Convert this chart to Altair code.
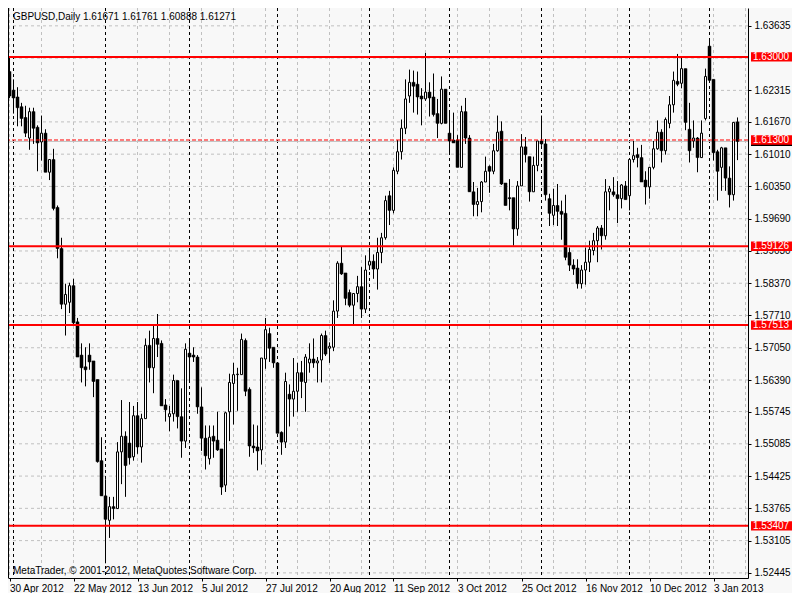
import altair as alt
import pandas as pd

# ---------------- data ----------------
opens = [
1.6270,1.6232,1.6218,1.6198,1.6176,1.6134,1.6188,1.6156,1.6126,1.6144,
1.6064,1.6090,1.5992,1.5908,1.5794,1.5798,1.5832,1.5758,1.5690,1.5666,
1.5690,1.5678,1.5640,1.5474,1.5402,1.5352,1.5380,1.5376,1.5492,1.5524,
1.5510,1.5482,1.5566,1.5502,1.5560,1.5710,1.5664,1.5724,1.5714,1.5588,
1.5564,1.5570,1.5638,1.5564,1.5514,1.5694,1.5690,1.5686,1.5584,1.5520,
1.5478,1.5524,1.5516,1.5498,1.5424,1.5574,1.5632,1.5650,1.5650,1.5720,
1.5620,1.5504,1.5502,1.5496,1.5682,1.5734,1.5706,1.5674,1.5532,1.5512,
1.5610,1.5600,1.5616,1.5654,1.5634,1.5674,1.5682,1.5674,1.5680,1.5730,
1.5704,1.5706,1.5780,1.5878,1.5858,1.5818,1.5792,1.5816,1.5830,1.5784,
1.5874,1.5882,1.5866,1.5900,1.5930,1.6016,1.5986,1.6066,1.6106,1.6154,
1.6220,1.6248,1.6244,1.6220,1.6214,1.6228,1.6218,1.6184,1.6164,1.6234,
1.6144,1.6130,1.6130,1.6074,1.6188,1.6134,1.6024,1.5998,1.6004,1.6044,
1.6076,1.6066,1.6108,1.6148,1.6042,1.6012,1.6012,1.5948,1.6036,1.6116,
1.6096,1.6024,1.6078,1.6128,1.6122,1.6010,1.5976,1.5996,1.5984,1.5980,
1.5900,1.5874,1.5868,1.5836,1.5864,1.5880,1.5904,1.5924,1.5950,1.5934,
1.6024,1.6024,1.6018,1.6010,1.6036,1.6016,1.6090,1.6100,1.6094,1.6048,
1.6034,1.6074,1.6112,1.6146,1.6108,1.6164,1.6202,1.6250,1.6246,1.6276,
1.6152,1.6128,1.6134,1.6094,1.6174,1.6322,1.6254,1.6106,1.6074,1.6114,
1.6052,1.6018,1.61671]

highs = [
1.6300,1.6254,1.6238,1.6206,1.6200,1.6196,1.6196,1.6160,1.6180,1.6152,
1.6090,1.6112,1.5996,1.5930,1.5836,1.5838,1.5846,1.5766,1.5714,1.5706,
1.5714,1.5678,1.5640,1.5522,1.5436,1.5400,1.5400,1.5512,1.5598,1.5534,
1.5594,1.5586,1.5594,1.5570,1.5724,1.5740,1.5752,1.5774,1.5720,1.5600,
1.5586,1.5650,1.5638,1.5622,1.5714,1.5724,1.5706,1.5690,1.5624,1.5546,
1.5546,1.5546,1.5574,1.5498,1.5574,1.5652,1.5674,1.5664,1.5734,1.5724,
1.5624,1.5548,1.5546,1.5684,1.5766,1.5746,1.5706,1.5674,1.5534,1.5654,
1.5630,1.5684,1.5674,1.5678,1.5692,1.5714,1.5724,1.5686,1.5734,1.5740,
1.5716,1.5802,1.5882,1.5912,1.5858,1.5824,1.5816,1.5852,1.5870,1.5894,
1.5906,1.5896,1.5930,1.5940,1.6016,1.6026,1.6074,1.6130,1.6172,1.6254,
1.6274,1.6272,1.6270,1.6236,1.6308,1.6248,1.6266,1.6214,1.6260,1.6234,
1.6186,1.6186,1.6140,1.6200,1.6216,1.6140,1.6044,1.6032,1.6046,1.6096,
1.6078,1.6122,1.6180,1.6168,1.6042,1.6050,1.6012,1.6046,1.6142,1.6136,
1.6096,1.6096,1.6128,1.6180,1.6132,1.6020,1.6030,1.6040,1.6006,1.6018,
1.5910,1.5886,1.5886,1.5874,1.5910,1.5924,1.5940,1.5954,1.5956,1.6050,
1.6036,1.6054,1.6046,1.6040,1.6046,1.6090,1.6128,1.6114,1.6120,1.6066,
1.6074,1.6128,1.6170,1.6152,1.6176,1.6220,1.6270,1.6306,1.6300,1.6276,
1.6206,1.6170,1.6136,1.6170,1.6276,1.6336,1.6254,1.6110,1.6116,1.6114,
1.6076,1.6166,1.61761]

lows = [
1.6216,1.6184,1.6158,1.6158,1.6136,1.6110,1.6122,1.6066,1.6088,1.6064,
1.6048,1.5986,1.5888,1.5784,1.5730,1.5776,1.5750,1.5686,1.5634,1.5626,
1.5660,1.5604,1.5470,1.5402,1.5264,1.5316,1.5354,1.5376,1.5426,1.5400,
1.5466,1.5474,1.5488,1.5470,1.5560,1.5634,1.5612,1.5686,1.5586,1.5554,
1.5534,1.5554,1.5540,1.5480,1.5500,1.5636,1.5676,1.5570,1.5494,1.5456,
1.5466,1.5480,1.5494,1.5404,1.5410,1.5514,1.5548,1.5576,1.5650,1.5606,
1.5482,1.5490,1.5454,1.5466,1.5662,1.5676,1.5664,1.5530,1.5486,1.5500,
1.5544,1.5564,1.5574,1.5602,1.5574,1.5654,1.5664,1.5634,1.5634,1.5688,
1.5674,1.5698,1.5766,1.5854,1.5792,1.5788,1.5752,1.5798,1.5766,1.5776,
1.5864,1.5846,1.5824,1.5878,1.5926,1.5956,1.5980,1.6060,1.6090,1.6142,
1.6206,1.6186,1.6182,1.6160,1.6210,1.6178,1.6178,1.6134,1.6162,1.6164,
1.6104,1.6124,1.6074,1.6074,1.6122,1.6024,1.5974,1.5974,1.5982,1.6044,
1.6022,1.6060,1.6106,1.6038,1.5996,1.5986,1.5914,1.5934,1.6036,1.6084,
1.6004,1.6024,1.6066,1.6118,1.6006,1.5954,1.5956,1.5954,1.5926,1.5884,
1.5862,1.5854,1.5826,1.5826,1.5834,1.5860,1.5894,1.5880,1.5906,1.5926,
1.5986,1.6014,1.5960,1.5990,1.6008,1.5986,1.6084,1.6074,1.6044,1.5998,
1.6010,1.6070,1.6110,1.6084,1.6100,1.6154,1.6186,1.6240,1.6236,1.6150,
1.6084,1.6114,1.6064,1.6094,1.6170,1.6250,1.6088,1.6006,1.6026,1.6026,
1.5992,1.6006,1.60888]

closes = [
1.6220,1.6216,1.6196,1.6174,1.6144,1.6188,1.6154,1.6124,1.6144,1.6064,
1.6090,1.5990,1.5908,1.5794,1.5814,1.5832,1.5756,1.5686,1.5664,1.5660,
1.5676,1.5636,1.5472,1.5402,1.5354,1.5380,1.5376,1.5492,1.5524,1.5464,
1.5480,1.5566,1.5502,1.5560,1.5710,1.5664,1.5724,1.5712,1.5586,1.5578,
1.5570,1.5638,1.5564,1.5514,1.5702,1.5686,1.5686,1.5584,1.5520,1.5484,
1.5522,1.5514,1.5496,1.5420,1.5572,1.5634,1.5650,1.5651,1.5722,1.5616,
1.5504,1.5500,1.5494,1.5684,1.5742,1.5704,1.5674,1.5530,1.5512,1.5636,
1.5600,1.5616,1.5654,1.5636,1.5686,1.5682,1.5674,1.5678,1.5730,1.5692,
1.5708,1.5780,1.5878,1.5856,1.5806,1.5792,1.5816,1.5830,1.5784,1.5864,
1.5882,1.5866,1.5900,1.5930,1.6006,1.5986,1.6068,1.6106,1.6154,1.6214,
1.6248,1.6240,1.6218,1.6214,1.6228,1.6216,1.6182,1.6164,1.6234,1.6164,
1.6128,1.6124,1.6074,1.6188,1.6134,1.6024,1.5998,1.6004,1.6044,1.6066,
1.6066,1.6108,1.6146,1.6040,1.5996,1.6010,1.5948,1.6036,1.6116,1.6100,
1.6024,1.6078,1.6128,1.6122,1.6018,1.5980,1.5996,1.5984,1.5978,1.5890,
1.5874,1.5866,1.5836,1.5864,1.5880,1.5906,1.5924,1.5950,1.5934,1.6024,
1.6030,1.6018,1.6010,1.6038,1.6008,1.6090,1.6098,1.6094,1.6044,1.6034,
1.6074,1.6112,1.6146,1.6108,1.6172,1.6202,1.6252,1.6244,1.6276,1.6166,
1.6108,1.6134,1.6094,1.6144,1.6260,1.6252,1.6104,1.6066,1.6114,1.6052,
1.6018,1.6166,1.61271]

date_labels = ["30 Apr 2012", "22 May 2012", "13 Jun 2012", "5 Jul 2012",
               "27 Jul 2012", "20 Aug 2012", "11 Sep 2012", "3 Oct 2012",
               "25 Oct 2012", "16 Nov 2012", "10 Dec 2012", "3 Jan 2013"]
label_idx = [0, 16, 32, 48, 64, 80, 96, 112, 128, 144, 160, 176]
month_start_idx = [1, 24, 45, 67, 90, 110, 133, 155, 175]
grid_idx = [0, 8, 16, 24, 32, 40, 48, 56, 64, 72, 80, 88, 96, 104, 112, 120,
            128, 136, 144, 152, 160, 168, 176, 184]
grid_prices = [1.63635, 1.62975, 1.62315, 1.61670, 1.61010, 1.60350, 1.59690,
               1.59030, 1.58370, 1.57710, 1.57050, 1.56390, 1.55745, 1.55085,
               1.54425, 1.53765, 1.53105, 1.52445]
# tick labels shown (1.62975 is hidden behind the 1.63000 marker in the reference)
price_labels = [1.63635, 1.62315, 1.61670, 1.61010, 1.60350, 1.59690,
                1.59030, 1.58370, 1.57710, 1.57050, 1.56390, 1.55745, 1.55085,
                1.54425, 1.53765, 1.53105, 1.52445]
level_prices = [1.63000, 1.59126, 1.57513, 1.53407]
ask_level = 1.61300
bid_price = 1.61271
title_text = "GBPUSD,Daily  1.61671 1.61761 1.60888 1.61271"
copyright_text = "MetaTrader, \u00a9 2001-2012, MetaQuotes Software Corp."

# ---------------- layout ----------------
W, H = 740, 570
RP = 44
X_MIN = -0.375
X_MAX = X_MIN + W / 4.0
Y_MIN, Y_MAX = 1.5234, 1.6400
FONT = "Liberation Sans"
FS = 10

xs = alt.Scale(domain=[X_MIN, X_MAX], nice=False, zero=False)
ys = alt.Scale(domain=[Y_MIN, Y_MAX], nice=False, zero=False)

n = len(opens)
df = pd.DataFrame({"i": list(range(n)), "open": opens, "high": highs,
                   "low": lows, "close": closes})
df["high"] = df[["high", "open", "close"]].max(axis=1)
df["low"] = df[["low", "open", "close"]].min(axis=1)
df["bull"] = df["close"] > df["open"]

label_expr = ("[" + ",".join("'" + s + "'" for s in date_labels) + "][indexof(["
              + ",".join(str(v) for v in label_idx) + "], datum.value)]")

XAX = alt.Axis(
    values=label_idx, labelExpr=label_expr, title=None, grid=False,
    orient="bottom", labelAlign="left", tickSize=3, labelPadding=2,
    domainColor="black", tickColor="black", labelColor="black",
    labelFont=FONT, labelFontSize=FS, labelOverlap=False,
    labelFlush=False, labelBound=False)
YAX = alt.Axis(
    orient="right", values=price_labels, format=".5f", title=None,
    grid=False, tickSize=3, labelPadding=3, domainColor="black",
    tickColor="black", labelColor="black", labelFont=FONT,
    labelFontSize=FS, labelOverlap=False, labelFlush=False,
    labelBaseline="middle")


def X(field):
    return alt.X(field, scale=xs, axis=XAX)


def Y(field):
    return alt.Y(field, scale=ys, axis=YAX)


hgrid = alt.Chart(pd.DataFrame({"p": grid_prices})).mark_rule(
    color="#c0c0c0", strokeDash=[3, 3], strokeWidth=1
).encode(y=Y("p:Q"))

vgrid = alt.Chart(pd.DataFrame({"i": grid_idx})).mark_rule(
    color="#c0c0c0", strokeDash=[3, 3], strokeWidth=1
).encode(x=X("i:Q"))

seps = alt.Chart(pd.DataFrame({"i": month_start_idx})).mark_rule(
    color="black", strokeDash=[3, 3], strokeWidth=1
).encode(x=X("i:Q"))

bidline = alt.Chart(pd.DataFrame({"p": [bid_price]})).mark_rule(
    color="#c0c0c0", strokeWidth=1
).encode(y=Y("p:Q"))

wicks = alt.Chart(df).mark_rule(color="black", strokeWidth=1).encode(
    x=X("i:Q"), y=Y("low:Q"), y2="high:Q")

bear = alt.Chart(df).transform_filter("!datum.bull").transform_calculate(
    xl="datum.i - 0.375", xr="datum.i + 0.375"
).mark_rect(fill="black", stroke="black", strokeWidth=0.5).encode(
    x=X("xl:Q"), x2="xr:Q", y=Y("open:Q"), y2="close:Q")

bull = alt.Chart(df).transform_filter("datum.bull").transform_calculate(
    xl="datum.i - 0.25", xr="datum.i + 0.25"
).mark_rect(fill="white", stroke="black", strokeWidth=1).encode(
    x=X("xl:Q"), x2="xr:Q", y=Y("open:Q"), y2="close:Q")

levels = alt.Chart(pd.DataFrame({"p": level_prices})).mark_rule(
    color="#ff0000", strokeWidth=2
).encode(y=Y("p:Q"))

askline = alt.Chart(pd.DataFrame({"p": [ask_level]})).mark_rule(
    color="#ff0000", strokeDash=[4, 2], strokeWidth=1
).encode(y=Y("p:Q"))

biddf = pd.DataFrame({"p": [bid_price], "t": [f"{bid_price:.5f}"]})
bidbox = alt.Chart(biddf).transform_calculate(
    lo="datum.p - 0.00095", hi="datum.p + 0.00095"
).mark_rect(color="black").encode(
    y=Y("lo:Q"), y2="hi:Q", x=alt.value(W + 3), x2=alt.value(W + RP))

labvals = level_prices + [ask_level]
labdf = pd.DataFrame({"p": labvals, "t": [f"{v:.5f}" for v in labvals]})
redbox = alt.Chart(labdf).transform_calculate(
    lo="datum.p - 0.00095", hi="datum.p + 0.00095"
).mark_rect(color="#ff0000").encode(
    y=Y("lo:Q"), y2="hi:Q", x=alt.value(W + 3), x2=alt.value(W + RP))
redtext = alt.Chart(labdf).mark_text(
    color="white", align="left", baseline="middle", font=FONT, fontSize=FS
).encode(y=Y("p:Q"), x=alt.value(W + 5), text="t:N")

title = alt.Chart(pd.DataFrame({"t": [title_text]})).mark_text(
    align="left", baseline="alphabetic", font=FONT, fontSize=FS, color="black"
).encode(x=alt.value(5), y=alt.value(12), text="t:N")

copyright_mark = alt.Chart(pd.DataFrame({"t": [copyright_text]})).mark_text(
    align="left", baseline="alphabetic", font=FONT, fontSize=FS, color="black"
).encode(x=alt.value(5), y=alt.value(H - 4), text="t:N")

left_border = alt.Chart(pd.DataFrame({"a": [0]})).mark_rule(
    color="black", strokeWidth=1
).encode(x=alt.value(0.5), y=alt.value(0), y2=alt.value(H))

chart = alt.layer(
    hgrid, vgrid, seps, bidline, wicks, bear, bull, levels, askline,
    bidbox, redbox, redtext, title, copyright_mark, left_border
).properties(
    width=W, height=H,
    padding={"left": 0, "top": 0, "right": RP, "bottom": 15},
    autosize=alt.AutoSizeParams(type="none"),
    background="#f8f8f8",
).configure_view(strokeWidth=0)

chart.save("out.html", embed_options={"renderer": "svg", "actions": False})
